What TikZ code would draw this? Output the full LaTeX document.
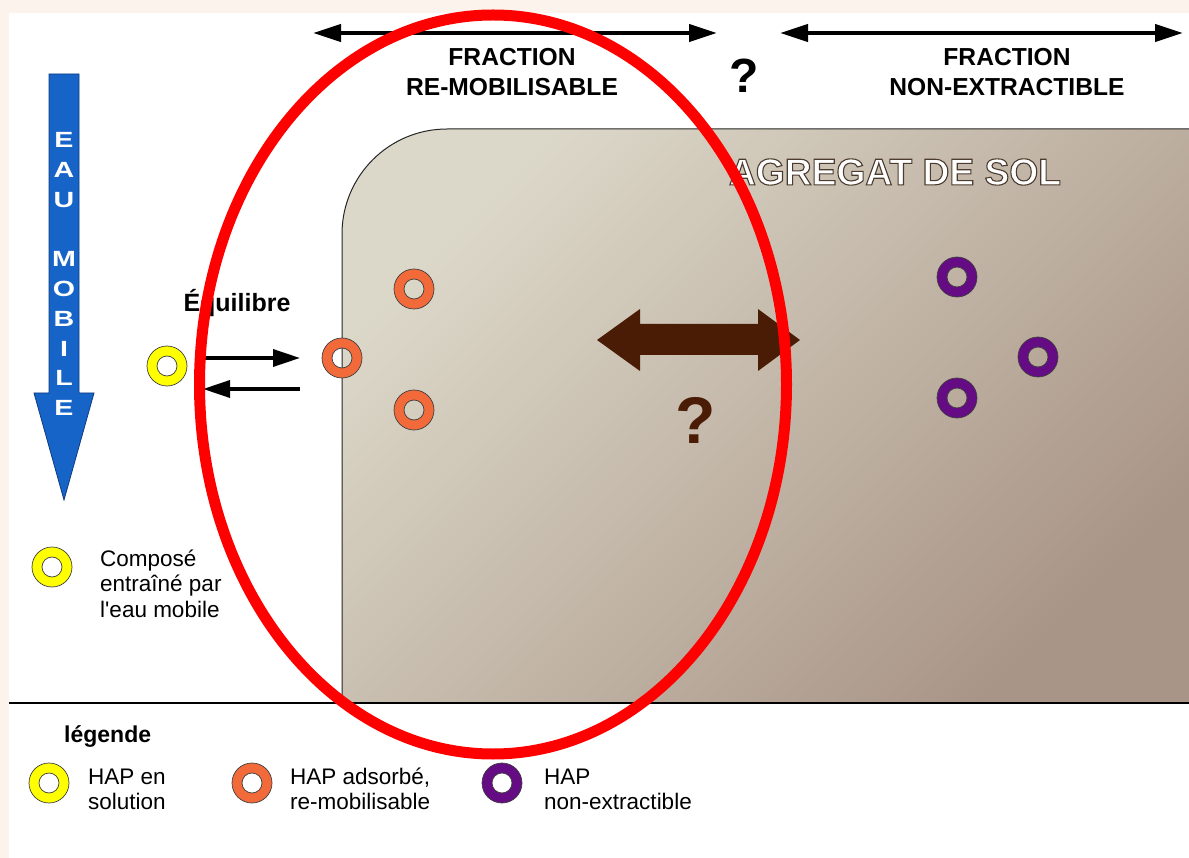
\documentclass[tikz,border=0pt]{standalone}
\usepackage{fontspec}
\usepackage{graphicx}
\setmainfont{Liberation Sans}
\usetikzlibrary{arrows.meta}
\definecolor{peach}{HTML}{FCF3EC}
\definecolor{soilA}{HTML}{DCD8C9}
\definecolor{soilB}{HTML}{A99587}
\definecolor{waterblue}{HTML}{1764C8}
\definecolor{waterdark}{HTML}{0E3C80}
\definecolor{ringY}{HTML}{FFFF00}
\definecolor{ringO}{HTML}{F2693A}
\definecolor{ringP}{HTML}{650B84}
\definecolor{brownA}{HTML}{4A1B05}
\definecolor{redE}{HTML}{FF0000}
\newcommand\outlinedtext[1]{\textcolor{white}{\special{pdf:literal direct 2 Tr 1.1 w 0.30 0.23 0.18 RG}#1\special{pdf:literal direct 0 Tr 0.4 w}}}
\newcommand\hapring[3]{\coordinate (#1) at (#2);\draw[ringstyle, fill=#3] (#1) circle[radius=20] (#1) circle[radius=10];}
\newcommand\wl[1]{\scalebox{1.3}[1]{#1}}
\begin{document}
\begin{tikzpicture}[x=1pt,y=-1pt,
  ringstyle/.style={draw=black!75, line width=0.7pt, even odd rule},
  fracfont/.style={font=\fontsize{24.6}{30}\selectfont\bfseries},
  legfont/.style={font=\fontsize{22.5}{25.5}\selectfont},
  thinarrow/.style={line width=3.5pt, -{Triangle[length=27pt,width=17pt]}},
  toparrow/.style={line width=4pt, {Triangle[length=28pt,width=17pt]}-{Triangle[length=28pt,width=17pt]}}]
\useasboundingbox (0,0) rectangle (1189,858);
% background
\fill[peach] (0,0) rectangle (1189,858);
\fill[white] (9,13) rectangle (1189,858);
% soil aggregate
\shade[top color=soilA, bottom color=soilB, shading angle=45]
  (342,703) -- (342,234) .. controls (342,176) and (389,129) .. (447,129) -- (1189,129) -- (1189,703) -- cycle;
\draw[line width=1pt, black!85] (342,703) -- (342,234) .. controls (342,176) and (389,129) .. (447,129) -- (1189,129);
\coordinate (hl1) at (9,703); \coordinate (hl2) at (1189,703);
\draw[line width=1.6pt] (hl1) -- (hl2);
\node[font=\fontsize{37.2}{40}\selectfont\bfseries, inner sep=0pt] (agr) at (895,172) {\outlinedtext{AGREGAT DE SOL}};
% water arrow
\coordinate (wt) at (64,74); \coordinate (wb) at (64,500);
\filldraw[fill=waterblue, draw=waterdark, line width=0.8pt] (49,74) -- (79,74) -- (79,393) -- (94,393) -- (wb) -- (34,393) -- (49,393) -- cycle;
\node[font=\fontsize{22}{29.8}\selectfont\bfseries, align=center, text=white, inner sep=0pt] (eau) at (64,274) {\wl{E}\\\wl{A}\\\wl{U}\\\mbox{}\\\wl{M}\\\wl{O}\\\wl{B}\\\wl{I}\\\wl{L}\\\wl{E}};
% top arrows and labels
\coordinate (ta1) at (313,33); \coordinate (ta2) at (717,33);
\coordinate (tb1) at (780,33); \coordinate (tb2) at (1183,33);
\draw[toparrow] (ta1) -- (ta2);
\draw[toparrow] (tb1) -- (tb2);
\node[fracfont, align=center, inner sep=0pt] (frac1) at (512,72) {FRACTION\\RE-MOBILISABLE};
\node[fracfont, align=center, inner sep=0pt] (frac2) at (1007,72) {FRACTION\\NON-EXTRACTIBLE};
\node[font=\fontsize{48}{50}\selectfont\bfseries, inner sep=0pt] (q1) at (744,76) {?};
% equilibrium
\node[font=\fontsize{25}{28}\selectfont\bfseries, anchor=base, inner sep=0pt] (equil) at (237,312) {Équilibre};
\coordinate (eqa1) at (203,358); \coordinate (eqa2) at (300,358);
\coordinate (eqb1) at (300,389); \coordinate (eqb2) at (203,389);
\draw[thinarrow] (eqa1) -- (eqa2);
\draw[thinarrow] (eqb1) -- (eqb2);
% rings
\hapring{ys}{167,366}{ringY}
\hapring{o1}{342,358}{ringO}
\hapring{o2}{414,289}{ringO}
\hapring{o3}{414,410}{ringO}
\hapring{p1}{957,277}{ringP}
\hapring{p2}{1038,357}{ringP}
\hapring{p3}{957,398}{ringP}
% brown double arrow
\coordinate (bl) at (597,340); \coordinate (br) at (800,340);
\fill[brownA] (bl) -- (640,309) -- (640,324) -- (758,324) -- (758,309) -- (br) -- (758,371) -- (758,355) -- (640,355) -- (640,371) -- cycle;
\node[font=\fontsize{66}{70}\selectfont\bfseries, text=brownA, inner sep=0pt] (q2) at (696,420) {?};
% side legend
\hapring{ly0}{52,567}{ringY}
\node[legfont, anchor=base west, inner sep=0pt] (c1) at (100,566) {Composé};
\node[legfont, anchor=base west, inner sep=0pt] (c2) at (100,591.5) {entraîné par};
\node[legfont, anchor=base west, inner sep=0pt] (c3) at (100,617) {l\textquotesingle eau mobile};
% bottom legend
\node[font=\fontsize{23}{26}\selectfont\bfseries, anchor=base west, inner sep=0pt] (leg) at (64,742) {légende};
\hapring{ly}{49,783}{ringY}
\hapring{lo}{252,783}{ringO}
\hapring{lp}{502,783}{ringP}
\node[legfont, anchor=base west, inner sep=0pt] (l1a) at (88,784) {HAP en};
\node[legfont, anchor=base west, inner sep=0pt] (l1b) at (88,809) {solution};
\node[legfont, anchor=base west, inner sep=0pt] (l2a) at (290,784) {HAP adsorbé,};
\node[legfont, anchor=base west, inner sep=0pt] (l2b) at (290,809) {re-mobilisable};
\node[legfont, anchor=base west, inner sep=0pt] (l3a) at (544,784) {HAP};
\node[legfont, anchor=base west, inner sep=0pt] (l3b) at (544,809) {non-extractible};
% red ellipse
\coordinate (ec) at (493,384.5);
\draw[redE, line width=11pt] (ec) ellipse[x radius=293.5, y radius=369.5];
\end{tikzpicture}
\end{document}
